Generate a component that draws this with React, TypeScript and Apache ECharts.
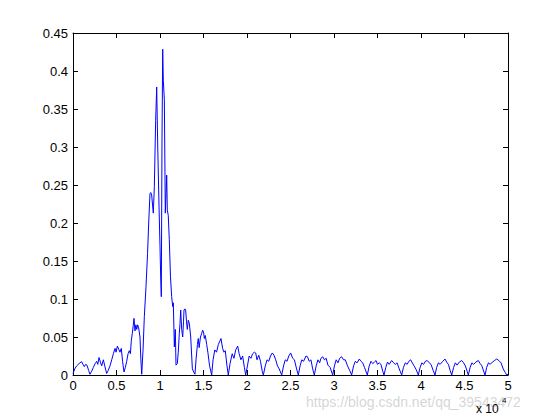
import React, { useEffect, useRef } from "react";
import * as echarts from "echarts";

// Frequency (Hz) and amplitude
const freqLow = [0, 200, 420, 600, 800, 1000, 1150, 1300, 1450, 1600, 1800, 1950, 2150, 2340, 2550, 2720, 2850, 2990, 3150, 3300, 3490, 3650, 3870, 4050, 4250, 4450, 4640, 4830, 4950, 5100, 5250, 5400, 5550, 5700, 5860, 6020, 6170, 6330, 6470, 6600, 6700, 6820, 6920, 7010, 7120, 7230, 7330, 7430, 7550, 7700, 7800, 7900];
const ampLow = [0.002, 0.008, 0.012, 0.014, 0.016, 0.0175, 0.014, 0.011, 0.014, 0.013, 0.006, 0.001, 0.005, 0.01, 0.015, 0.018, 0.014, 0.023, 0.017, 0.012, 0.02, 0.012, 0.002, 0.006, 0.012, 0.02, 0.028, 0.035, 0.03, 0.038, 0.034, 0.03, 0.035, 0.018, 0.004, 0.01, 0.018, 0.028, 0.032, 0.028, 0.045, 0.055, 0.065, 0.0745, 0.058, 0.066, 0.06, 0.066, 0.062, 0.05, 0.02, 0.001];

const freqPeak = [8050, 8200, 8390, 8570, 8700, 8850, 8950, 9040, 9230, 9350, 9500, 9620, 9740, 9890, 10000, 10080, 10150, 10230, 10310, 10380, 10500, 10610, 10700, 10770, 10840, 10950, 11070, 11200, 11340, 11460, 11530, 11650, 11760, 11840, 11990, 12100, 12220, 12300, 12380, 12490, 12610, 12700, 12760, 12860, 12950, 13050, 13140, 13250, 13370, 13530, 13720, 13910, 14020, 14140, 14300, 14400, 14500, 14650, 14800, 14900, 15000, 15100, 15200, 15370, 15500, 15700, 15940];
const ampPeak = [0.033, 0.077, 0.116, 0.16, 0.2, 0.239, 0.24, 0.237, 0.213, 0.248, 0.335, 0.379, 0.3, 0.221, 0.169, 0.129, 0.103, 0.309, 0.4286, 0.388, 0.362, 0.213, 0.24, 0.263, 0.217, 0.21, 0.178, 0.13, 0.103, 0.09, 0.095, 0.037, 0.06, 0.013, 0.015, 0.03, 0.055, 0.068, 0.0855, 0.06, 0.05, 0.07, 0.0855, 0.087, 0.0855, 0.07, 0.06, 0.072, 0.068, 0.05, 0.008, 0.003, 0.001, 0.02, 0.04, 0.048, 0.036, 0.05, 0.055, 0.059, 0.057, 0.048, 0.052, 0.04, 0.03, 0.012, 0.0];

const freqMid = [16100, 16300, 16500, 16700, 17010, 17200, 17350, 17500, 17700, 17850, 18050, 18300, 18500, 18700, 18930, 19100, 19300, 19500, 19700, 19850, 20050, 20250, 20450, 20650, 20840, 21000, 21150, 21350, 21550, 21750, 21880, 22100, 22300, 22500, 22700, 22910, 23100, 23300, 23500, 23700, 23990, 24200, 24400, 24600, 24800, 25020, 25250, 25450, 25700, 25900, 26100, 26300, 26500, 26780, 26950, 27150, 27350, 27550, 27740, 27950, 28150, 28350, 28500, 28700, 28900, 29100, 29300, 29550, 29850, 30050, 30250, 30450, 30650, 30880, 31100, 31300, 31550, 31800, 32030];
const ampMid = [0.02, 0.033, 0.03, 0.04, 0.048, 0.035, 0.03, 0.032, 0.012, 0.0, 0.015, 0.028, 0.022, 0.033, 0.038, 0.028, 0.02, 0.025, 0.01, 0.0, 0.012, 0.025, 0.022, 0.028, 0.03, 0.029, 0.02, 0.026, 0.018, 0.005, 0.0, 0.012, 0.02, 0.018, 0.025, 0.029, 0.026, 0.02, 0.012, 0.008, 0.0, 0.012, 0.02, 0.018, 0.025, 0.029, 0.022, 0.02, 0.008, 0.0, 0.012, 0.02, 0.018, 0.025, 0.024, 0.018, 0.02, 0.008, 0.0, 0.012, 0.02, 0.016, 0.022, 0.024, 0.02, 0.022, 0.013, 0.01, 0.0, 0.012, 0.02, 0.016, 0.022, 0.024, 0.02, 0.02, 0.012, 0.006, 0.0];

const freqHigh = [32250, 32450, 32650, 32910, 33100, 33300, 33500, 33830, 34050, 34250, 34450, 34650, 34830, 35000, 35200, 35400, 35600, 35750, 35950, 36150, 36350, 36630, 36850, 37050, 37250, 37500, 37780, 37980, 38200, 38400, 38600, 38810, 39000, 39200, 39450, 39690, 39900, 40100, 40300, 40500, 40720, 40950, 41150, 41400, 41610, 41800, 42000, 42200, 42500, 42760, 42950, 43150, 43350, 43530, 43750, 43950, 44150, 44400, 44680, 44900, 45100, 45300, 45440, 45650, 45850, 46050, 46300, 46590, 46800, 47000, 47200, 47360, 47550, 47750, 47950, 48200, 48450, 48700, 48950, 49200, 49450, 49700, 49850, 50000];
const ampHigh = [0.012, 0.018, 0.016, 0.021, 0.018, 0.016, 0.01, 0.0, 0.012, 0.018, 0.015, 0.017, 0.019, 0.014, 0.016, 0.014, 0.005, 0.0, 0.01, 0.017, 0.014, 0.019, 0.016, 0.014, 0.016, 0.008, 0.0, 0.01, 0.016, 0.014, 0.018, 0.02, 0.016, 0.012, 0.007, 0.0, 0.01, 0.016, 0.014, 0.018, 0.019, 0.016, 0.014, 0.006, 0.0, 0.01, 0.016, 0.014, 0.018, 0.021, 0.017, 0.014, 0.006, 0.0, 0.01, 0.016, 0.013, 0.017, 0.019, 0.016, 0.012, 0.005, 0.0, 0.01, 0.016, 0.014, 0.017, 0.019, 0.015, 0.012, 0.005, 0.0, 0.01, 0.016, 0.014, 0.017, 0.019, 0.021, 0.019, 0.016, 0.008, 0.003, 0.0, 0.001];

const xTickLabels = ["0", "0.5", "1", "1.5", "2", "2.5", "3", "3.5", "4", "4.5", "5"];
const yTickLabels = ["0", "0.05", "0.1", "0.15", "0.2", "0.25", "0.3", "0.35", "0.4", "0.45"];

const FONT = "Liberation Sans, Arial, sans-serif";

export default function App() {
  const ref = useRef<HTMLDivElement>(null);
  useEffect(() => {
    if (!ref.current) return;
    const chart = echarts.init(ref.current, undefined, { renderer: "svg" });
    const freq = [...freqLow, ...freqPeak, ...freqMid, ...freqHigh];
    const amp = [...ampLow, ...ampPeak, ...ampMid, ...ampHigh];
    const data = freq.map((f, i) => [f, amp[i]]);
    const axisLine = { show: true, onZero: false, lineStyle: { color: "#000", width: 1 } };
    const axisTick = { show: true, inside: true, length: 5, lineStyle: { color: "#000", width: 1 } };
    chart.setOption({
      animation: false,
      backgroundColor: "#fff",
      grid: { left: 73, right: 52, top: 33, bottom: 45, containLabel: false },
      xAxis: [
        {
          type: "value", position: "bottom", min: 0, max: 50000, interval: 5000,
          axisLine, axisTick, splitLine: { show: false },
          axisLabel: {
            color: "#000", fontSize: 13, fontFamily: FONT, margin: 4,
            formatter: (v: number) => xTickLabels[Math.round(v / 5000)] ?? "",
          },
        },
        {
          type: "value", position: "top", min: 0, max: 50000, interval: 5000,
          axisLine, axisTick, splitLine: { show: false }, axisLabel: { show: false },
        },
      ],
      yAxis: [
        {
          type: "value", position: "left", min: 0, max: 0.45, interval: 0.05,
          axisLine, axisTick, splitLine: { show: false },
          axisLabel: {
            color: "#000", fontSize: 13, fontFamily: FONT, margin: 5,
            formatter: (v: number) => yTickLabels[Math.round(v / 0.05)] ?? "",
          },
        },
        {
          type: "value", position: "right", min: 0, max: 0.45, interval: 0.05,
          axisLine, axisTick, splitLine: { show: false }, axisLabel: { show: false },
        },
      ],
      series: [
        {
          type: "line", xAxisIndex: 0, yAxisIndex: 0, data,
          symbol: "none", lineStyle: { color: "#0000ff", width: 1 },
        },
      ],
      graphic: [
        {
          type: "text", left: 306, top: 395, z: 1,
          style: { text: "https://blog.csdn.net/qq_39543472", fill: "rgba(200,200,200,0.75)", font: `14px ${FONT}` },
        },
        {
          type: "text", left: 476, top: 403, z: 10,
          style: { text: "x 10", fill: "#000", font: `12px ${FONT}` },
        },
        {
          type: "text", left: 502, top: 396, z: 10,
          style: { text: "4", fill: "#000", font: `8px ${FONT}` },
        },
      ],
    });
    return () => chart.dispose();
  }, []);
  return <div ref={ref} style={{ position: "absolute", left: 0, top: 0, width: 560, height: 420 }} />;
}
